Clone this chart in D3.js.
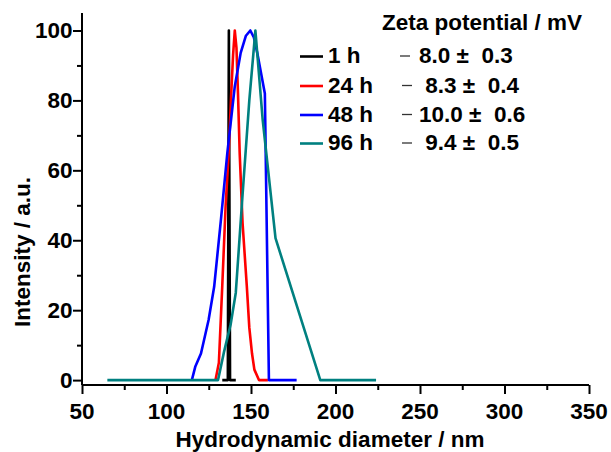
<!DOCTYPE html>
<html><head><meta charset="utf-8">
<script src="https://cdn.jsdelivr.net/npm/d3@7"></script>
<style>body{margin:0;background:#fff}text{font-family:"Liberation Sans",Arial,sans-serif;font-weight:bold;fill:#000}</style>
</head><body><svg id="c" width="611" height="452"></svg>
<script>
const seriesNames = ["1 h","24 h","48 h","96 h"];
const seriesColors = ["#000000","#ff0000","#0000ff","#008080"];
const black1h = [[133,0],[136.3,0],[136.9,100],[137.6,0],[141,0]];
const red24h = [[129,0],[131,5],[133,27],[135,50],[136.8,65],[138.3,82],[139.4,93],[140.4,100],[141.4,95],[142.3,82],[143.3,65],[145,45],[147.5,27],[149,15],[150.6,7.6],[152,3],[154.7,0],[160,0]];
const blue48h = [[115,0],[117,3.8],[120.4,7.6],[124.9,17.2],[128.2,26.7],[132.2,45.8],[136,65],[140.4,84],[143.9,93.6],[147,98.5],[149.6,100],[151.7,98],[153.7,93.6],[158.2,82],[160.6,0],[177,0]];
const teal96h = [[65,0],[130.5,0],[134,8],[138,16],[141,25],[145,53],[149,80],[152.6,100],[156.9,74.5],[164.5,40.6],[191,0],[224,0]];
const seriesData = [black1h, red24h, blue48h, teal96h];
const zetaMean = ["8.0"," 8.3","10.0"," 9.4"];
const zetaErr = ["0.3","0.4","0.6","0.5"];
const xTicks = [50,100,150,200,250,300,350];
const yTicks = [0,20,40,60,80,100];

const FS = 22.5;
const svg = d3.select("#c");
const x = d3.scaleLinear().domain([50,350]).range([82,589]);
const y = d3.scaleLinear().domain([-1.4,105]).range([385,13]);

const line = d3.line().x(d=>x(d[0])).y(d=>y(d[1]));
seriesData.forEach((s,i)=>{
  svg.append("path").datum(s).attr("d",line).attr("fill","none")
    .attr("stroke",seriesColors[i]).attr("stroke-width",2.6).attr("stroke-linejoin","round");
});

// x axis
const gx = svg.append("g").attr("transform","translate(0,385)");
gx.call(d3.axisBottom(x).tickValues(d3.range(50,351,25)).tickSize(5).tickFormat(""));
gx.call(g=>g.selectAll(".tick").filter(d=>xTicks.includes(d)).select("line").attr("y2",9));
gx.append("g").selectAll("text").data(xTicks).join("text")
  .attr("x",d=>x(d)).attr("y",33.5).attr("text-anchor","middle").attr("font-size",FS).text(d=>d);
gx.selectAll("path,line").attr("stroke","#000").attr("stroke-width",2);
gx.select(".domain").attr("d","M82,0H589");

// y axis
const gy = svg.append("g").attr("transform","translate(82,0)");
gy.call(d3.axisLeft(y).tickValues(d3.range(0,101,10)).tickSize(5).tickFormat(""));
gy.call(g=>g.selectAll(".tick").filter(d=>yTicks.includes(d)).select("line").attr("x2",-9));
gy.append("g").selectAll("text").data(yTicks).join("text")
  .attr("x",-9.5).attr("y",d=>y(d)+8).attr("text-anchor","end").attr("font-size",FS).text(d=>d);
gy.selectAll("path,line").attr("stroke","#000").attr("stroke-width",2);
gy.select(".domain").attr("d","M0,385V13");

// titles
svg.append("text").attr("x",330).attr("y",446.5).attr("text-anchor","middle").attr("font-size",FS).text("Hydrodynamic diameter / nm");
svg.append("text").attr("transform","translate(30,252) rotate(-90)").attr("text-anchor","middle").attr("font-size",FS).text("Intensity / a.u.");

// legend
svg.append("text").attr("x",382).attr("y",30).attr("font-size",FS).text("Zeta potential / mV");
const rowY = [63,92.5,121.5,150];
seriesNames.forEach((n,i)=>{
  svg.append("line").attr("x1",300).attr("x2",323).attr("y1",rowY[i]-6.5).attr("y2",rowY[i]-6.5)
    .attr("stroke",seriesColors[i]).attr("stroke-width",2.6);
  svg.append("text").attr("x",328).attr("y",rowY[i]).attr("font-size",FS).text(n);
  svg.append("line").attr("x1",i===0?400:402).attr("x2",i===0?410:412).attr("y1",rowY[i]-7).attr("y2",rowY[i]-7)
    .attr("stroke","#333").attr("stroke-width",1.3);
  svg.append("text").attr("x",419).attr("y",rowY[i]).attr("font-size",FS).style("white-space","pre")
    .text(zetaMean[i]+" \u00b1  "+zetaErr[i]);
});
</script></body></html>
